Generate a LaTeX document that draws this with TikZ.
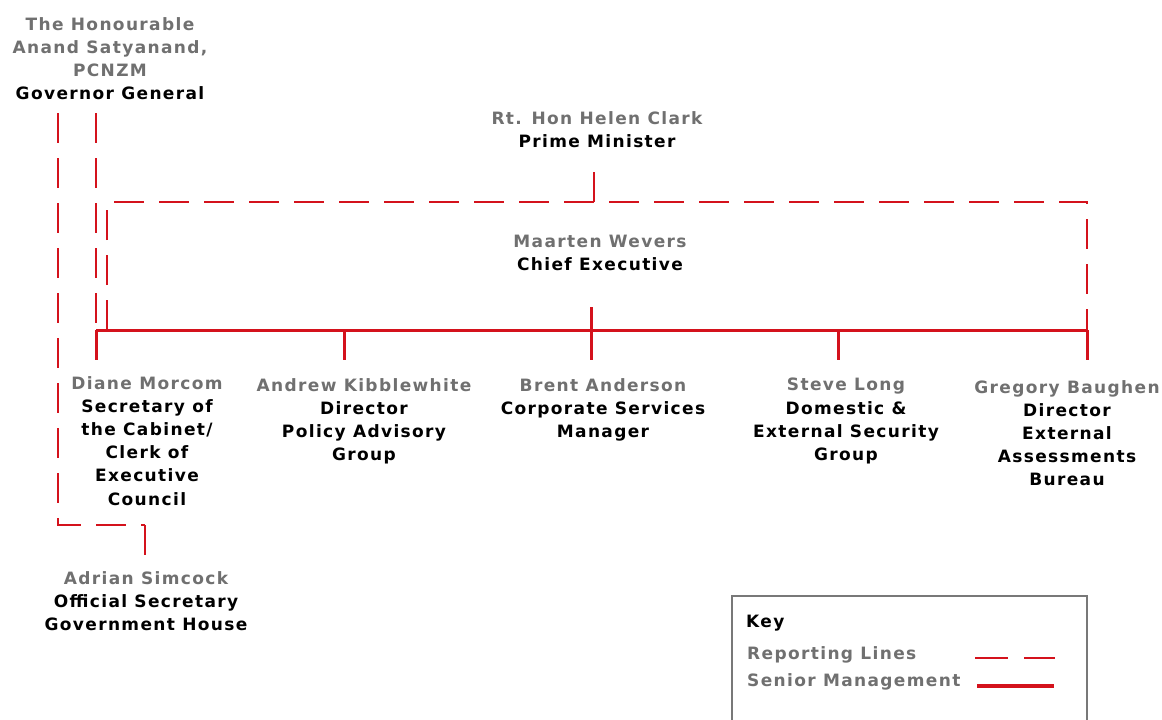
\documentclass[tikz,border=0pt]{standalone}
\usepackage{fontspec}
\setmainfont{DejaVu Sans}[LetterSpace=8]
\definecolor{orgred}{RGB}{212,18,28}
\definecolor{namegray}{RGB}{112,112,112}
\definecolor{keygray}{RGB}{120,120,120}
\newcommand\pname[1]{\textcolor{namegray}{#1}}
\tikzset{
  person/.style={align=center, inner sep=0pt, anchor=north, text=black,
    font=\fontsize{17}{23.2}\selectfont\bfseries},
  report/.style={draw=orgred, line width=1.8pt, dash pattern=on 30pt off 15pt},
  senior/.style={draw=orgred, line width=3pt},
  link/.style={draw=orgred, line width=1.8pt},
}
\begin{document}
\begin{tikzpicture}[x=1pt,y=-1pt]
\useasboundingbox (0,0) rectangle (1162,720);
% people
\node[person] (gov) at (110,17) {\pname{The Honourable}\\\pname{Anand Satyanand,}\\\pname{PCNZM}\\Governor General};
\node[person] (pm) at (597,111) {\pname{Rt. Hon Helen Clark}\\Prime Minister};
\node[person] (ce) at (600,235) {\pname{Maarten Wevers}\\Chief Executive};
\node[person] (diane) at (147,376) {\pname{Diane Morcom}\\Secretary of\\the Cabinet/\\Clerk of\\Executive\\Council};
\node[person] (andrew) at (364,378) {\pname{Andrew Kibblewhite}\\Director\\Policy Advisory\\Group};
\node[person] (brent) at (603,378) {\pname{Brent Anderson}\\Corporate Services\\Manager};
\node[person] (steve) at (846,378) {\pname{Steve Long}\\Domestic \&\\External Security\\Group};
\node[person] (greg) at (1067,380) {\pname{Gregory Baughen}\\Director\\External\\Assessments\\Bureau};
\node[person] (adrian) at (146,571) {\pname{Adrian Simcock}\\Official Secretary\\Government House};
% junction coordinates
\coordinate (g1) at (58,113);
\coordinate (g2) at (96,113);
\coordinate (gc) at (58,525);
\coordinate (ga) at (145,525);
\coordinate (ad) at (145,555);
\coordinate (pmtop) at (594,172);
\coordinate (pmbot) at (594,202);
\coordinate (rtl) at (107,202);
\coordinate (rtr) at (1087,202);
\coordinate (rbl) at (107,330);
\coordinate (rbr) at (1087,330);
\coordinate (cetop) at (591,307);
\coordinate (b1) at (96,330);
\coordinate (b2) at (344,330);
\coordinate (b3) at (591,330);
\coordinate (b4) at (838,330);
\coordinate (b5) at (1087,330);
\coordinate (d1) at (96,360);
\coordinate (d2) at (344,360);
\coordinate (d3) at (591,360);
\coordinate (d4) at (838,360);
\coordinate (d5) at (1087,360);
% reporting lines
\draw[report] (g1) -- (gc) -- (ga);
\draw[link] (ga) -- (ad);
\draw[report] (g2) -- (b1);
\draw[report] (rbl) -- (rtl) -- (rtr) -- (rbr);
\draw[link] (pmtop) -- (pmbot);
% senior management
\draw[senior] (cetop) -- (b3);
\draw[senior] (b1) -- (b5);
\foreach \i in {1,...,5} \draw[senior] (b\i) -- (d\i);
% key
\draw[draw=keygray, line width=1.2pt] (732,730) -- (732,596) -- (1087,596) -- (1087,730);
\node[inner sep=0pt, anchor=west, font=\fontsize{17}{20}\selectfont\bfseries] (keyt) at (746,623) {Key};
\node[inner sep=0pt, anchor=west, font=\fontsize{17}{20}\selectfont\bfseries, text=namegray] (keyr) at (747,655) {Reporting Lines};
\node[inner sep=0pt, anchor=west, font=\fontsize{17}{20}\selectfont\bfseries, text=namegray] (keys) at (747,682) {Senior Management};
\coordinate (kr1) at (975,658);
\coordinate (kr2) at (1055,658);
\coordinate (ks1) at (977,686);
\coordinate (ks2) at (1054,686);
\draw[draw=orgred, line width=1.8pt, dash pattern=on 33pt off 16pt] (kr1) -- (kr2);
\draw[draw=orgred, line width=4pt] (ks1) -- (ks2);
\end{tikzpicture}
\end{document}
